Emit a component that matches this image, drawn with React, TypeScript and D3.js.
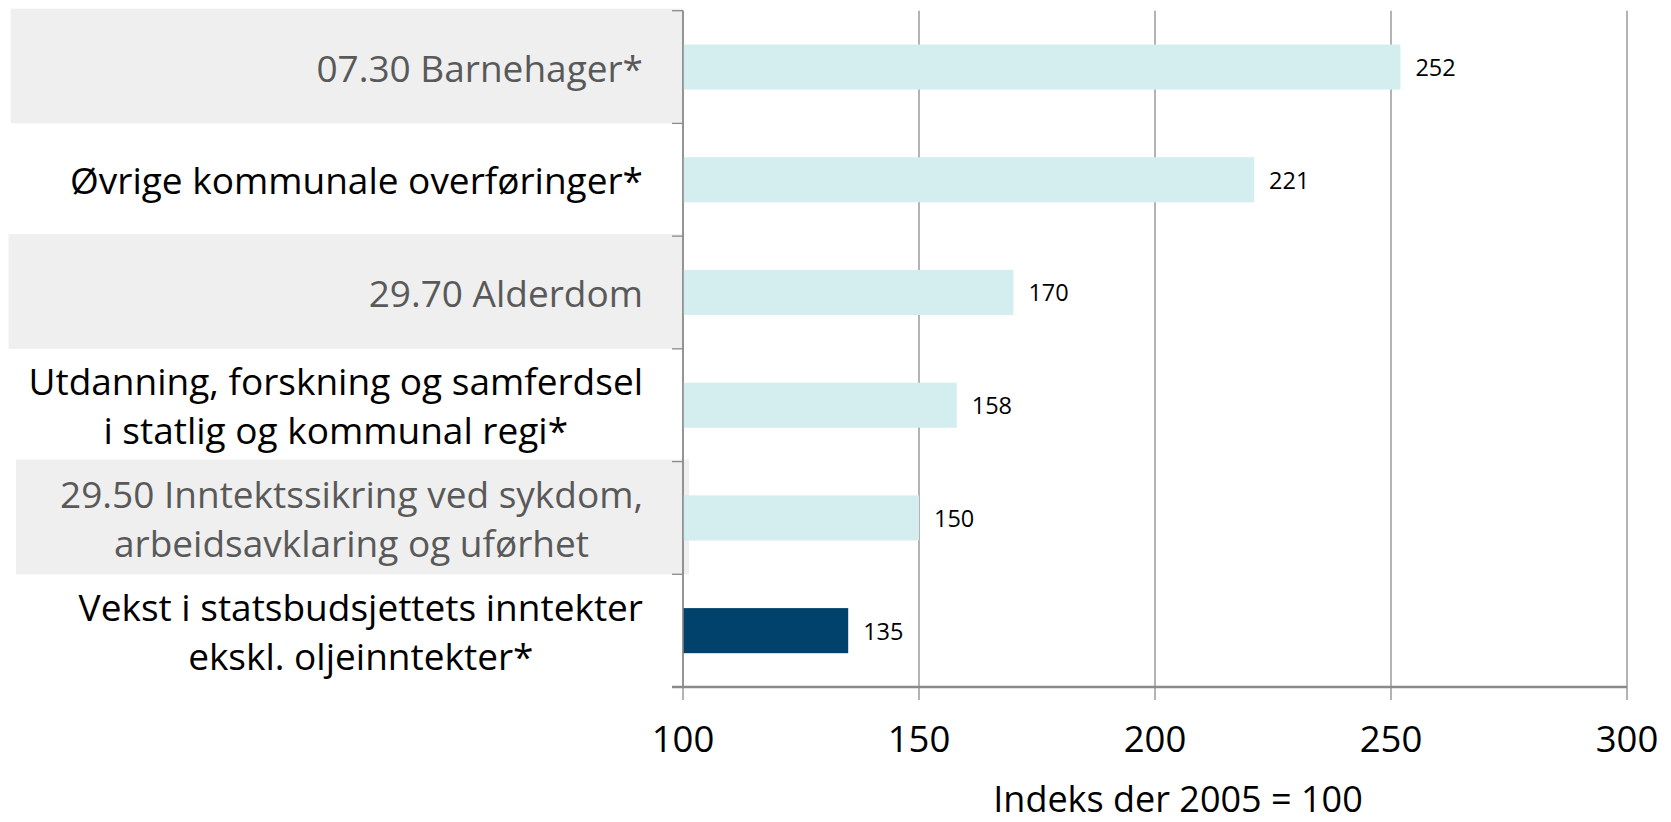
import React from "react";
import * as d3 from "d3";

const categories: string[][] = [
  ["07.30 Barnehager*"],
  ["Øvrige kommunale overføringer*"],
  ["29.70 Alderdom"],
  ["Utdanning, forskning og samferdsel", "i statlig og kommunal regi*"],
  ["29.50 Inntektssikring ved sykdom,", "arbeidsavklaring og uførhet"],
  ["Vekst i statsbudsjettets inntekter", "ekskl. oljeinntekter*"],
];
const values: number[] = [252, 221, 170, 158, 150, 135];
const highlighted: boolean[] = [true, false, true, false, true, false];
const isRevenue: boolean[] = [false, false, false, false, false, true];
const xTicks: number[] = [100, 150, 200, 250, 300];
const xTitle = "Indeks der 2005 = 100";

const W = 1671;
const H = 822;
const FONT = "'Open Sans', 'Liberation Sans', sans-serif";
const LABEL_SIZE = 37;

let ctx: CanvasRenderingContext2D | null = null;
function measure(text: string, size: number): number {
  if (!ctx) {
    const c = document.createElement("canvas");
    ctx = c.getContext("2d");
  }
  if (!ctx) return text.length * size * 0.5;
  ctx.font = `${size}px 'Open Sans'`;
  return ctx.measureText(text).width;
}

export default function App() {
  const x = d3.scaleLinear().domain([100, 300]).range([683, 1627]);
  const keys = categories.map((_, i) => String(i));
  const y = d3.scaleBand().domain(keys).range([10.7, 687]).paddingInner(0.6).paddingOuter(0.3);
  const bandH = (687 - 10.7) / categories.length;
  const bandTop = (i: number) => 10.7 + i * bandH;
  const gridColor = "#8a8a8a";
  const lineH = 49;
  const labelRight = 643;

  return (
    <svg width={W} height={H} style={{ position: "absolute", left: 0, top: 0, background: "#fff" }}>
      {/* label background boxes */}
      {categories.map((_, i) =>
        highlighted[i] ? (
          <rect
            key={"bg" + i}
            x={i === 4 ? 16 : i === 2 ? 8.5 : 10.7}
            y={bandTop(i) - 2}
            width={i === 4 ? 673 : 683 - (i === 2 ? 8.5 : 10.7)}
            height={bandH + 2}
            fill="#efefef"
          />
        ) : null
      )}
      {/* gridlines */}
      {xTicks.map((t) => (
        <line key={"g" + t} x1={x(t)} x2={x(t)} y1={10.7} y2={700} stroke={gridColor} strokeWidth={1.3} />
      ))}
      {/* y axis tick marks */}
      {d3.range(categories.length + 1).map((i) => (
        <line key={"yt" + i} x1={672} x2={683} y1={bandTop(i)} y2={bandTop(i)} stroke={gridColor} strokeWidth={1.3} />
      ))}
      {/* bars */}
      {values.map((v, i) => (
        <rect
          key={"b" + i}
          x={x(100)}
          y={y(String(i))!}
          width={x(v) - x(100)}
          height={y.bandwidth()}
          fill={isRevenue[i] ? "#00426b" : "#d4edee"}
        />
      ))}
      {/* value labels */}
      {values.map((v, i) => (
        <text
          key={"v" + i}
          x={x(v) + 15}
          y={y(String(i))! + y.bandwidth() / 2}
          dominantBaseline="central"
          fontFamily={FONT}
          fontSize={23.5}
          fill="#000"
        >
          {v}
        </text>
      ))}
      {/* axes */}
      <line x1={683} x2={683} y1={10.7} y2={687} stroke={gridColor} strokeWidth={1.5} />
      <line x1={672} x2={1627} y1={687} y2={687} stroke={gridColor} strokeWidth={2.5} />
      {/* category labels */}
      {categories.map((lines, i) => {
        const cy = bandTop(i) + bandH / 2;
        const start = cy - ((lines.length - 1) * lineH) / 2;
        const maxW = Math.max(...lines.map((l) => measure(l, LABEL_SIZE)));
        const cx = labelRight - maxW / 2;
        const multi = lines.length > 1;
        return (
          <text
            key={"c" + i}
            textAnchor={multi ? "middle" : "end"}
            fontFamily={FONT}
            fontSize={LABEL_SIZE}
            fill={highlighted[i] ? "#595959" : "#000"}
          >
            {lines.map((l, j) => (
              <tspan key={j} x={multi ? cx : labelRight} y={start + j * lineH} dominantBaseline="central">
                {l}
              </tspan>
            ))}
          </text>
        );
      })}
      {/* x tick labels */}
      {xTicks.map((t) => (
        <text
          key={"xl" + t}
          x={x(t)}
          y={738}
          textAnchor="middle"
          dominantBaseline="central"
          fontFamily={FONT}
          fontSize={36.5}
          fill="#000"
        >
          {t}
        </text>
      ))}
      <text
        x={1178}
        y={798}
        textAnchor="middle"
        dominantBaseline="central"
        fontFamily={FONT}
        fontSize={36}
        fill="#000"
      >
        {xTitle}
      </text>
    </svg>
  );
}
